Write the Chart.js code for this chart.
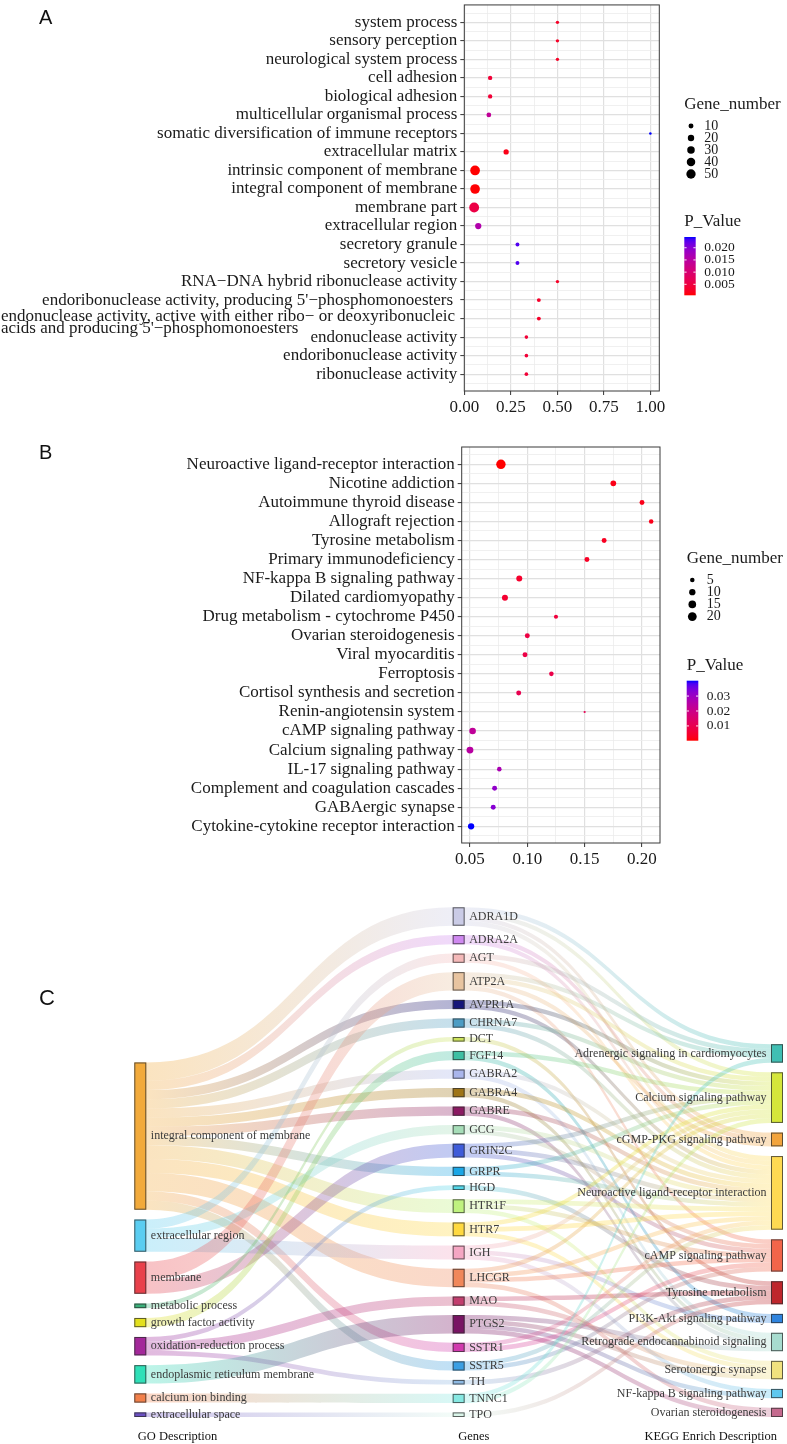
<!DOCTYPE html>
<html>
<head>
<meta charset="utf-8">
<title>GO / KEGG enrichment</title>
<script src="https://cdn.jsdelivr.net/npm/chart.js@4.4.1/dist/chart.umd.min.js"></script>
<style>
  html, body { margin:0; padding:0; background:#ffffff; }
  body { width:787px; height:1444px; position:relative; overflow:hidden; }
  canvas { position:absolute; left:0; display:block; }
  .tag { position:absolute; font-family:"Liberation Sans", Arial, sans-serif; color:#111; line-height:1; }
</style>
</head>
<body>
<canvas id="chartA" width="787" height="420" style="top:0px;width:787px;height:420px"></canvas>
<canvas id="chartB" width="787" height="450" style="top:420px;width:787px;height:450px"></canvas>
<canvas id="chartC" width="787" height="574" style="top:870px;width:787px;height:574px"></canvas>
<div class="tag" style="left:39px;top:7px;font-size:20px">A</div>
<div class="tag" style="left:39px;top:442px;font-size:20px">B</div>
<div class="tag" style="left:39px;top:987px;font-size:22px">C</div>
<script>
// ================= DATA: panel A (GO terms) =================
const goTerms = [
  "system process","sensory perception","neurological system process","cell adhesion",
  "biological adhesion","multicellular organismal process","somatic diversification of immune receptors",
  "extracellular matrix","intrinsic component of membrane","integral component of membrane",
  "membrane part","extracellular region","secretory granule","secretory vesicle",
  "RNA\u2212DNA hybrid ribonuclease activity",
  "endoribonuclease activity, producing 5'\u2212phosphomonoesters ",
  "endonuclease activity, active with either ribo\u2212 or deoxyribonucleic\nacids and producing 5'\u2212phosphomonoesters",
  "endonuclease activity","endoribonuclease activity","ribonuclease activity"
];
const goRatio      = [0.50,0.50,0.50,0.138,0.138,0.131,1.00,0.224,0.057,0.057,0.052,0.074,0.285,0.285,0.50,0.40,0.40,0.333,0.333,0.333];
const goGeneNumber = [3,3,3,7,7,9,1,12,55,54,57,19,5,5,3,5,5,4,4,4];
const goPValue     = [0.0026,0.0026,0.0026,0.0040,0.0040,0.0140,0.0244,0.0015,0.0005,0.0006,0.0055,0.0160,0.0230,0.0230,0.0026,0.0030,0.0030,0.0040,0.0040,0.0040];
const goSizeLegend = [10,20,30,40,50];
const goPLegend    = [0.005,0.010,0.015,0.020];

// ================= DATA: panel B (KEGG terms) =================
const keggTerms = [
  "Neuroactive ligand-receptor interaction","Nicotine addiction","Autoimmune thyroid disease",
  "Allograft rejection","Tyrosine metabolism","Primary immunodeficiency","NF-kappa B signaling pathway",
  "Dilated cardiomyopathy","Drug metabolism - cytochrome P450","Ovarian steroidogenesis",
  "Viral myocarditis","Ferroptosis","Cortisol synthesis and secretion","Renin-angiotensin system",
  "cAMP signaling pathway","Calcium signaling pathway","IL-17 signaling pathway",
  "Complement and coagulation cascades","GABAergic synapse","Cytokine-cytokine receptor interaction"
];
const keggRatio      = [0.077,0.175,0.200,0.208,0.167,0.152,0.093,0.0805,0.125,0.100,0.098,0.121,0.0925,0.150,0.0523,0.050,0.0756,0.0715,0.0703,0.051];
const keggGeneNumber = [23,8,6,5,6,6,9,9,4,6,6,5,6,1,11,12,5,6,6,10];
const keggPValue     = [0.0001,0.0018,0.0020,0.0022,0.0030,0.0035,0.0045,0.0050,0.0070,0.0080,0.0085,0.0090,0.0100,0.0105,0.0230,0.0245,0.0275,0.0315,0.0330,0.0403];
const keggSizeLegend = [5,10,15,20];
const keggPLegend    = [0.01,0.02,0.03];

// ================= DATA: panel C (Sankey) =================
const goNodes = ["integral component of membrane","extracellular region","membrane","metabolic process",
  "growth factor activity","oxidation-reduction process","endoplasmic reticulum membrane",
  "calcium ion binding","extracellular space"];
const geneNodes = ["ADRA1D","ADRA2A","AGT","ATP2A","AVPR1A","CHRNA7","DCT","FGF14","GABRA2","GABRA4",
  "GABRE","GCG","GRIN2C","GRPR","HGD","HTR1F","HTR7","IGH","LHCGR","MAO","PTGS2","SSTR1","SSTR5",
  "TH","TNNC1","TPO"];
const pathwayNodes = ["Adrenergic signaling in cardiomyocytes","Calcium signaling pathway",
  "cGMP-PKG signaling pathway","Neuroactive ligand-receptor interaction","cAMP signaling pathway",
  "Tyrosine metabolism","PI3K-Akt signaling pathway","Retrograde endocannabinoid signaling",
  "Serotonergic synapse","NF-kappa B signaling pathway","Ovarian steroidogenesis"];
const goGeneLinks = [
  ["integral component of membrane","ADRA1D",4],["integral component of membrane","ADRA2A",2],
  ["integral component of membrane","AVPR1A",2],["integral component of membrane","CHRNA7",2],
  ["integral component of membrane","GABRA2",2],["integral component of membrane","GABRA4",2],
  ["integral component of membrane","GABRE",2],["integral component of membrane","GRPR",2],
  ["integral component of membrane","HTR1F",3],["integral component of membrane","HTR7",3],
  ["integral component of membrane","LHCGR",4],["integral component of membrane","SSTR1",2],
  ["integral component of membrane","SSTR5",2],
  ["extracellular region","AGT",2],["extracellular region","GCG",2],["extracellular region","IGH",3],
  ["membrane","ATP2A",4],["membrane","GRIN2C",3],
  ["metabolic process","DCT",1],
  ["growth factor activity","FGF14",2],
  ["oxidation-reduction process","HGD",1],["oxidation-reduction process","MAO",2],["oxidation-reduction process","TH",1],
  ["endoplasmic reticulum membrane","PTGS2",4],
  ["calcium ion binding","TNNC1",2],
  ["extracellular space","TPO",1]
];
const genePathwayLinks = [
  ["ADRA1D","Adrenergic signaling in cardiomyocytes",1],["ADRA1D","Calcium signaling pathway",1],
  ["ADRA1D","cGMP-PKG signaling pathway",1],["ADRA1D","Neuroactive ligand-receptor interaction",1],
  ["ADRA2A","cGMP-PKG signaling pathway",1],["ADRA2A","Neuroactive ligand-receptor interaction",1],
  ["AGT","Adrenergic signaling in cardiomyocytes",1],["AGT","Neuroactive ligand-receptor interaction",1],
  ["ATP2A","Adrenergic signaling in cardiomyocytes",1],["ATP2A","Calcium signaling pathway",1],
  ["ATP2A","cGMP-PKG signaling pathway",1],["ATP2A","cAMP signaling pathway",1],
  ["AVPR1A","Calcium signaling pathway",1],["AVPR1A","Neuroactive ligand-receptor interaction",1],
  ["CHRNA7","Calcium signaling pathway",1],["CHRNA7","Neuroactive ligand-receptor interaction",1],
  ["DCT","Tyrosine metabolism",1],
  ["FGF14","Calcium signaling pathway",1],["FGF14","PI3K-Akt signaling pathway",1],
  ["GABRA2","Neuroactive ligand-receptor interaction",1],["GABRA2","Retrograde endocannabinoid signaling",1],
  ["GABRA4","Neuroactive ligand-receptor interaction",1],["GABRA4","Retrograde endocannabinoid signaling",1],
  ["GABRE","Neuroactive ligand-receptor interaction",1],["GABRE","Retrograde endocannabinoid signaling",1],
  ["GCG","Neuroactive ligand-receptor interaction",1],["GCG","cAMP signaling pathway",1],
  ["GRIN2C","Calcium signaling pathway",1],["GRIN2C","Neuroactive ligand-receptor interaction",1],["GRIN2C","cAMP signaling pathway",1],
  ["GRPR","Calcium signaling pathway",1],["GRPR","Neuroactive ligand-receptor interaction",1],
  ["HGD","Tyrosine metabolism",1],
  ["HTR1F","Neuroactive ligand-receptor interaction",1],["HTR1F","cAMP signaling pathway",1],["HTR1F","Serotonergic synapse",1],
  ["HTR7","Calcium signaling pathway",1],["HTR7","Neuroactive ligand-receptor interaction",1],["HTR7","Serotonergic synapse",1],
  ["IGH","Calcium signaling pathway",1],["IGH","PI3K-Akt signaling pathway",1],["IGH","NF-kappa B signaling pathway",1],
  ["LHCGR","Calcium signaling pathway",1],["LHCGR","Neuroactive ligand-receptor interaction",1],
  ["LHCGR","cAMP signaling pathway",1],["LHCGR","Ovarian steroidogenesis",1],
  ["MAO","Tyrosine metabolism",1],["MAO","Serotonergic synapse",1],
  ["PTGS2","Retrograde endocannabinoid signaling",1],["PTGS2","Serotonergic synapse",1],
  ["PTGS2","NF-kappa B signaling pathway",1],["PTGS2","Ovarian steroidogenesis",1],
  ["SSTR1","Neuroactive ligand-receptor interaction",1],["SSTR1","cAMP signaling pathway",1],
  ["SSTR5","Neuroactive ligand-receptor interaction",1],["SSTR5","cAMP signaling pathway",1],
  ["TH","Tyrosine metabolism",1],
  ["TNNC1","Adrenergic signaling in cardiomyocytes",1],["TNNC1","Calcium signaling pathway",1],
  ["TPO","Tyrosine metabolism",1]
];
const columnTitles = ["GO Description","Genes","KEGG Enrich Description"];

// ================= STYLES =================
const FONT = "'Liberation Serif','Times New Roman',Times,serif";
const TEXT = '#1a1a1a';
const GRID_MAJOR = '#E0E0E0';
const GRID_MINOR = '#ECECEC';
const goNodeColors = ['#F2AA3B','#5ACDF1','#E9414B','#3BB07A','#E3E01E','#A3289A','#2FE0B8','#F2804A','#6B50C2'];
const geneNodeColors = ['#CACBE6','#CF88F0','#F4B8B8','#E8C4A0','#15157A','#4C9DC4','#CCE35A','#3DBFA3',
  '#A9B5EB','#9E7417','#8B1A62','#A6DDB8','#3E5BD9','#1AA6E6','#52D8EA','#BFF27F','#FFD940','#F5A6C3',
  '#F0875A','#C23E6E','#781463','#D13AAE','#3B9FE3','#8DB9E3','#86E8E2','#D9F5E9'];
const pathwayNodeColors = ['#40BFB3','#D5E63B','#F2A43D','#FFDA52','#F2654A','#BE262C','#2F84DE',
  '#A7DCCF','#F1E27E','#5EC7EE','#C56A8E'];
const LINK_ALPHA = 0.32;
const NODE_W = 12;
const COL_PAD = [2.13, 2.03, 2.1];

// ================= helpers =================
function hexToRgb(h){ const v=parseInt(h.slice(1),16); return [(v>>16)&255,(v>>8)&255,v&255]; }
function rgba(h,a){ const c=hexToRgb(h); return `rgba(${c[0]},${c[1]},${c[2]},${a})`; }
function s2l(c){ c/=255; return c<=0.04045?c/12.92:Math.pow((c+0.055)/1.055,2.4); }
function l2s(c){ const v=c<=0.0031308?12.92*c:1.055*Math.pow(c,1/2.4)-0.055; return Math.round(Math.max(0,Math.min(1,v))*255); }
function rgb2lab(rgb){
  const r=s2l(rgb[0]), g=s2l(rgb[1]), b=s2l(rgb[2]);
  const X=(0.4124564*r+0.3575761*g+0.1804375*b)/0.95047;
  const Y=(0.2126729*r+0.7151522*g+0.0721750*b);
  const Z=(0.0193339*r+0.1191920*g+0.9503041*b)/1.08883;
  const d=6/29, f=t=>t>d*d*d?Math.cbrt(t):t/(3*d*d)+4/29;
  const fx=f(X), fy=f(Y), fz=f(Z);
  return [116*fy-16, 500*(fx-fy), 200*(fy-fz)];
}
function lab2rgb(lab){
  const d=6/29, fy=(lab[0]+16)/116, fx=fy+lab[1]/500, fz=fy-lab[2]/200;
  const fi=t=>t>d?t*t*t:3*d*d*(t-4/29);
  const X=fi(fx)*0.95047, Y=fi(fy), Z=fi(fz)*1.08883;
  const r= 3.2404542*X-1.5371385*Y-0.4985314*Z;
  const g=-0.9692660*X+1.8760108*Y+0.0415560*Z;
  const b= 0.0556434*X-0.2040259*Y+1.0572252*Z;
  return [l2s(r),l2s(g),l2s(b)];
}
const LAB_LOW = rgb2lab([255,0,0]), LAB_HIGH = rgb2lab([0,0,255]);
function pColor(p,pmin,pmax){
  let t=(p-pmin)/(pmax-pmin); t=Math.max(0,Math.min(1,t));
  const c=lab2rgb(LAB_LOW.map((v,i)=>v+(LAB_HIGH[i]-v)*t));
  return `rgb(${c[0]},${c[1]},${c[2]})`;
}
const isWhole = v => Math.abs(v-Math.round(v))<1e-9;

// ================= dot plot factory =================
function makeDotPlot(id, o){
  const N = o.terms.length;
  const pts = o.terms.map((t,i)=>({x:o.ratio[i], y:i, n:o.genes[i], p:o.pval[i]}));
  const isMajorX = v => Math.abs(v/o.xMajor-Math.round(v/o.xMajor))<1e-6;
  const extras = {
    id:'extras_'+id,
    afterDraw(chart){
      const {ctx, chartArea:a, scales:{y}} = chart;
      ctx.save();
      ctx.strokeStyle='#3a3a3a'; ctx.lineWidth=1;
      ctx.strokeRect(a.left, a.top, a.right-a.left, a.bottom-a.top);
      if (o.multiIndex != null){
        const lines = o.terms[o.multiIndex].split('\n');
        ctx.font = `17px ${FONT}`; ctx.fillStyle=TEXT; ctx.textAlign='left'; ctx.textBaseline='alphabetic';
        const w = ctx.measureText(lines[0]).width;
        const xs = Math.max(1, a.left-12.3-w);
        const yv = y.getPixelForValue(o.multiIndex);
        ctx.fillText(lines[0], xs, yv+2);
        ctx.fillText(lines[1], xs, yv+14);
      }
      const L = o.legend;
      ctx.fillStyle=TEXT; ctx.textAlign='left'; ctx.textBaseline='middle';
      ctx.font = `17px ${FONT}`;
      ctx.fillText('Gene_number', L.x, L.titleY);
      ctx.font = `14px ${FONT}`;
      o.sizeLegend.forEach((v,i)=>{
        const cy = L.sizeY0 + i*L.sizeStep;
        ctx.beginPath(); ctx.arc(L.dotX, cy, o.radius(v), 0, Math.PI*2); ctx.fillStyle='#000'; ctx.fill();
        ctx.fillStyle=TEXT; ctx.fillText(String(v), L.labelX, cy);
      });
      ctx.font = `17px ${FONT}`;
      ctx.fillText('P_Value', L.x, L.pTitleY);
      const bh = L.barBot-L.barTop;
      const grad = ctx.createLinearGradient(0, L.barBot, 0, L.barTop);
      for (let k=0;k<=20;k++){ grad.addColorStop(k/20, pColor(o.pmin+(o.pmax-o.pmin)*k/20, o.pmin, o.pmax)); }
      ctx.fillStyle=grad; ctx.fillRect(L.x, L.barTop, L.barW, bh);
      ctx.font = `13.5px ${FONT}`;
      o.pLegend.forEach(v=>{
        const yy = L.barBot - (v-o.pmin)/(o.pmax-o.pmin)*bh;
        ctx.strokeStyle='rgba(255,255,255,0.9)'; ctx.lineWidth=1;
        ctx.beginPath(); ctx.moveTo(L.x, yy); ctx.lineTo(L.x+2.3, yy);
        ctx.moveTo(L.x+L.barW-2.3, yy); ctx.lineTo(L.x+L.barW, yy); ctx.stroke();
        ctx.fillStyle=TEXT; ctx.fillText(v.toFixed(o.pDecimals), L.labelX, yy);
      });
      ctx.restore();
    }
  };
  return new Chart(document.getElementById(id), {
    type:'scatter',
    data:{ datasets:[{
      data: pts,
      pointRadius: c => c.raw ? o.radius(c.raw.n) : 0,
      pointHoverRadius: c => c.raw ? o.radius(c.raw.n) : 0,
      pointBackgroundColor: c => c.raw ? pColor(c.raw.p, o.pmin, o.pmax) : '#000',
      pointBorderWidth: 0,
      pointHoverBorderWidth: 0
    }]},
    options:{
      responsive:false, animation:false, events:[],
      layout:{ padding:{ left:0, right:o.padRight, top:o.padTop, bottom:0 } },
      plugins:{ legend:{display:false}, tooltip:{enabled:false} },
      scales:{
        x:{
          type:'linear', min:o.xMin, max:o.xMax, bounds:'data',
          afterBuildTicks: s => {
            const t=[]; for(let k=Math.ceil(o.xMin/o.xMinor-1e-9); k*o.xMinor<=o.xMax+1e-9; k++){ t.push({value:Math.round(k*o.xMinor*1e6)/1e6}); }
            s.ticks=t;
          },
          afterFit: s => { s.height=o.xAxisH; s.paddingLeft=0; s.paddingRight=0; },
          ticks:{ autoSkip:false, maxRotation:0, minRotation:0, padding:2, color:TEXT, font:{family:FONT,size:17},
            callback: v => isMajorX(v) ? v.toFixed(2) : '' },
          grid:{ color: c => (c.tick && isMajorX(c.tick.value)) ? GRID_MAJOR : GRID_MINOR,
                 lineWidth: c => (c.tick && isMajorX(c.tick.value)) ? 1.2 : 0.8,
                 tickLength:4, tickWidth:1,
                 tickColor: c => (c.tick && isMajorX(c.tick.value)) ? '#333' : 'rgba(0,0,0,0)' },
          border:{display:false}
        },
        y:{
          type:'linear', reverse:true, min:-o.yPadTop, max:N-1+o.yPadBot, bounds:'data',
          afterBuildTicks: s => { const t=[]; for(let v=-0.5; v<=N-0.5+1e-9; v+=0.5){ t.push({value:v}); } s.ticks=t; },
          afterFit: s => { s.width=o.leftW; s.paddingTop=0; s.paddingBottom=0; },
          ticks:{ autoSkip:false, padding:3, color:TEXT, font:{family:FONT,size:17},
            callback: v => (isWhole(v) && v>=0 && v<N && v!==o.multiIndex) ? o.terms[Math.round(v)] : '' },
          grid:{ color: c => (c.tick && isWhole(c.tick.value)) ? GRID_MAJOR : GRID_MINOR,
                 lineWidth: c => (c.tick && isWhole(c.tick.value)) ? 1.2 : 0.8,
                 tickLength:4, tickWidth:1,
                 tickColor: c => (c.tick && isWhole(c.tick.value) && c.tick.value>=0 && c.tick.value<N) ? '#333' : 'rgba(0,0,0,0)' },
          border:{display:false}
        }
      }
    },
    plugins:[extras]
  });
}

// ---------- Panel A ----------
makeDotPlot('chartA', {
  terms:goTerms, ratio:goRatio, genes:goGeneNumber, pval:goPValue,
  radius: n => 0.7 + 0.56*Math.sqrt(n),
  pmin: Math.min(...goPValue), pmax: Math.max(...goPValue),
  xMin:-0.001, xMax:1.048, xMinor:0.125, xMajor:0.25,
  yPadTop:0.94, yPadBot:0.91,
  leftW:464.3, padTop:2, padRight:787-659.3, xAxisH:29,
  multiIndex:16,
  sizeLegend:goSizeLegend, pLegend:goPLegend, pDecimals:3,
  legend:{ x:684.3, titleY:105, dotX:691, labelX:704.3, sizeY0:126, sizeStep:12,
           pTitleY:221.7, barTop:237, barBot:295.3, barW:11.4 }
});

// ---------- Panel B ----------
makeDotPlot('chartB', {
  terms:keggTerms, ratio:keggRatio, genes:keggGeneNumber, pval:keggPValue,
  radius: n => Math.max(0.7, 0.15 + 0.95*Math.sqrt(n)),
  pmin: Math.min(...keggPValue), pmax: Math.max(...keggPValue),
  xMin:0.0428, xMax:0.2157, xMinor:0.025, xMajor:0.05,
  yPadTop:0.908, yPadBot:0.877,
  leftW:461.7, padTop:27, padRight:787-660, xAxisH:27,
  multiIndex:null,
  sizeLegend:keggSizeLegend, pLegend:keggPLegend, pDecimals:2,
  legend:{ x:686.7, titleY:138.3, dotX:692.3, labelX:706.7, sizeY0:160, sizeStep:12.2,
           pTitleY:245.3, barTop:260.7, barBot:320.7, barW:11.6 }
});

// ---------- Panel C (Sankey drawn on Chart.js linear scales) ----------
function buildSankey(){
  const cols=[goNodes,geneNodes,pathwayNodes], colors=[goNodeColors,geneNodeColors,pathwayNodeColors];
  const nodes={};
  cols.forEach((names,c)=>names.forEach((n,i)=>{ nodes[c+'|'+n]={c,i,name:n,color:colors[c][i],inV:0,outV:0,ins:[],outs:[]}; }));
  const links=[];
  goGeneLinks.forEach(l=>links.push({src:nodes['0|'+l[0]], tgt:nodes['1|'+l[1]], v:l[2]}));
  genePathwayLinks.forEach(l=>links.push({src:nodes['1|'+l[0]], tgt:nodes['2|'+l[1]], v:l[2]}));
  links.forEach(l=>{ l.src.outV+=l.v; l.src.outs.push(l); l.tgt.inV+=l.v; l.tgt.ins.push(l); });
  const totals = cols.map((names,c)=>{
    const list=names.map(n=>nodes[c+'|'+n]);
    list.forEach(nd=>nd.v=Math.max(nd.inV,nd.outV));
    return list.reduce((a,nd)=>a+nd.v,0)+(list.length-1)*COL_PAD[c];
  });
  const ymax=Math.max(...totals);
  cols.forEach((names,c)=>{
    let yy=ymax-totals[c];
    names.forEach(n=>{ const nd=nodes[c+'|'+n]; nd.y0=yy; nd.y1=yy+nd.v; yy=nd.y1+COL_PAD[c]; });
  });
  Object.values(nodes).forEach(nd=>{
    nd.outs.sort((a,b)=>a.tgt.y0-b.tgt.y0); let o=nd.y0; nd.outs.forEach(l=>{ l.sy0=o; o+=l.v; l.sy1=o; });
    nd.ins.sort((a,b)=>a.src.y0-b.src.y0); o=nd.y0; nd.ins.forEach(l=>{ l.ty0=o; o+=l.v; l.ty1=o; });
  });
  return {nodes:Object.values(nodes), links, ymax};
}
const SK = buildSankey();

const sankeyPlugin = {
  id:'sankey',
  afterDraw(chart){
    const {ctx, scales:{x,y}, chartArea} = chart;
    ctx.save();
    SK.links.forEach(l=>{
      const x0=x.getPixelForValue(l.src.c)+NODE_W, x1=x.getPixelForValue(l.tgt.c), xm=(x0+x1)/2;
      const a0=y.getPixelForValue(l.sy0), a1=y.getPixelForValue(l.sy1);
      const b0=y.getPixelForValue(l.ty0), b1=y.getPixelForValue(l.ty1);
      const g=ctx.createLinearGradient(x0,0,x1,0);
      g.addColorStop(0, rgba(l.src.color, LINK_ALPHA));
      g.addColorStop(1, rgba(l.tgt.color, LINK_ALPHA));
      ctx.beginPath();
      ctx.moveTo(x0,a0); ctx.bezierCurveTo(xm,a0,xm,b0,x1,b0);
      ctx.lineTo(x1,b1); ctx.bezierCurveTo(xm,b1,xm,a1,x0,a1);
      ctx.closePath(); ctx.fillStyle=g; ctx.fill();
    });
    SK.nodes.forEach(nd=>{
      const px=x.getPixelForValue(nd.c), t=y.getPixelForValue(nd.y0), b=y.getPixelForValue(nd.y1);
      ctx.fillStyle=nd.color; ctx.fillRect(px,t,NODE_W,b-t);
      ctx.strokeStyle='rgba(45,45,45,0.75)'; ctx.lineWidth=1;
      ctx.strokeRect(px+0.5,t+0.5,NODE_W-1,Math.max(0,b-t-1));
    });
    ctx.font=`12px ${FONT}`; ctx.fillStyle='#3c3c3c'; ctx.textBaseline='middle';
    SK.nodes.forEach(nd=>{
      const px=x.getPixelForValue(nd.c), cy=(y.getPixelForValue(nd.y0)+y.getPixelForValue(nd.y1))/2;
      if (nd.c===2){ ctx.textAlign='right'; ctx.fillText(nd.name, px-4.5, cy); }
      else { ctx.textAlign='left'; ctx.fillText(nd.name, px+NODE_W+4.5, cy); }
    });
    ctx.font=`12.5px ${FONT}`; ctx.fillStyle='#111';
    const ty=chartArea.bottom+19.7;
    ctx.textAlign='left';  ctx.fillText(columnTitles[0], x.getPixelForValue(0)+3.5, ty);
    ctx.textAlign='left';  ctx.fillText(columnTitles[1], x.getPixelForValue(1)+5.5, ty);
    ctx.textAlign='right'; ctx.fillText(columnTitles[2], x.getPixelForValue(2)+6, ty);
    ctx.restore();
  }
};

new Chart(document.getElementById('chartC'), {
  type:'scatter',
  data:{ datasets:[] },
  options:{
    responsive:false, animation:false, events:[],
    layout:{ padding:{ left:134.3, right:16, top:37.3, bottom:27 } },
    plugins:{ legend:{display:false}, tooltip:{enabled:false} },
    scales:{
      x:{ type:'linear', min:0, max:2, display:false },
      y:{ type:'linear', min:0, max:SK.ymax, reverse:true, display:false }
    }
  },
  plugins:[sankeyPlugin]
});
</script>
</body>
</html>
